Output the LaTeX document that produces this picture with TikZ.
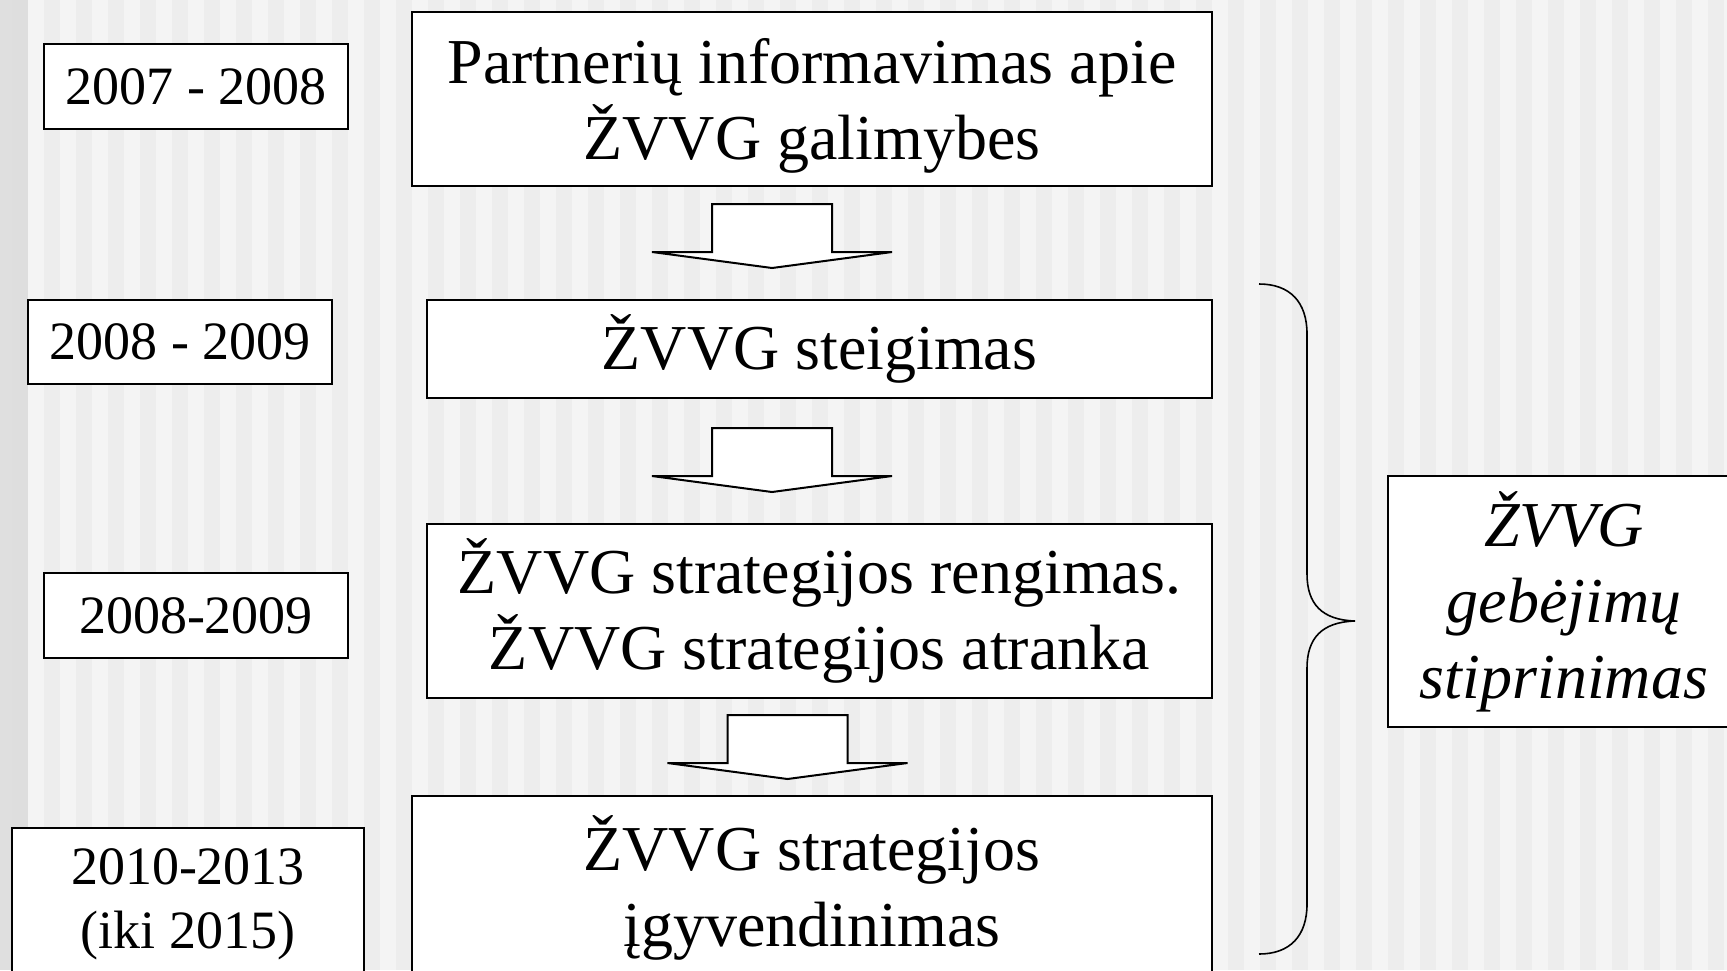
\documentclass[tikz,border=0pt]{standalone}
\usepackage{fontspec}
\setmainfont{Liberation Serif}
\definecolor{stripelight}{HTML}{F4F4F4}
\definecolor{stripedark}{HTML}{EDEDED}

\begin{document}
\begin{tikzpicture}[x=0.5pt,y=-0.5pt]
\tikzset{yearbox/.style = {draw,fill=white,line width=1pt,inner sep=0pt,align=center,
  minimum width=152pt,minimum height=42.5pt,font=\fontsize{27}{32}\selectfont}}
\tikzset{stagebox/.style = {draw,fill=white,line width=1pt,inner sep=0pt,align=center,
  minimum height=87pt,font=\fontsize{32}{38}\selectfont}}
\tikzset{blockarrow/.style = {draw,fill=white,line width=1pt,line join=miter}}

% background
\useasboundingbox (0,0) rectangle (1727,970);
\fill[stripelight] (0,0) rectangle (1727,970);
\fill[stripedark!70!lightgray] (0,0) rectangle (12,970);
\fill[black!13] (12,0) rectangle (28,970);
\foreach \k in {0,...,52}
  \fill[stripedark] ({44+32*\k},0) rectangle ++(16,970);

% years
\node[yearbox] (y1) at (196,86.5) {2007 - 2008};
\node[yearbox,minimum height=42pt] (y2) at (180,342) {2008 - 2009};
\node[yearbox] (y3) at (196,615.5) {2008-2009};
\node[yearbox,minimum width=176pt,minimum height=76pt] (y4) at (188,904) {2010-2013\\(iki 2015)};

% stages
\node[stagebox,minimum width=400pt,text depth=0pt] (inform) at (812,99) {Partnerių informavimas apie\\ŽVVG galimybes};
\node[stagebox,minimum width=392.5pt,minimum height=49pt] (steig) at (819.5,349) {ŽVVG steigimas};
\node[stagebox,minimum width=392.5pt] (rengim) at (819.5,611) {ŽVVG strategijos rengimas.\\ŽVVG strategijos atranka};
\node[stagebox,minimum width=400pt,minimum height=92pt] (igyv) at (812,888) {ŽVVG strategijos\\įgyvendinimas};

% arrows
\foreach \ax/\ay in {772/204, 772/428, 787.5/715}
  \draw[blockarrow] ({\ax-60},\ay) -- ({\ax+60},\ay) -- ({\ax+60},{\ay+48})
    -- ({\ax+120},{\ay+48}) -- (\ax,{\ay+64}) -- ({\ax-120},{\ay+48})
    -- ({\ax-60},{\ay+48}) -- cycle;

% brace
\draw[line width=0.8pt] (1259,284) .. controls (1290,284) and (1307,302) .. (1307,334)
  -- (1307,574) .. controls (1307,604) and (1322,620) .. (1355,621)
  .. controls (1322,622) and (1307,638) .. (1307,668)
  -- (1307,904) .. controls (1307,936) and (1290,954) .. (1259,954);

\node[stagebox,minimum width=176pt,minimum height=125.5pt,font=\fontsize{32}{38}\selectfont\itshape]
  (gebej) at (1564,601.5) {ŽVVG\\gebėjimų\\stiprinimas};
\end{tikzpicture}
\end{document}
